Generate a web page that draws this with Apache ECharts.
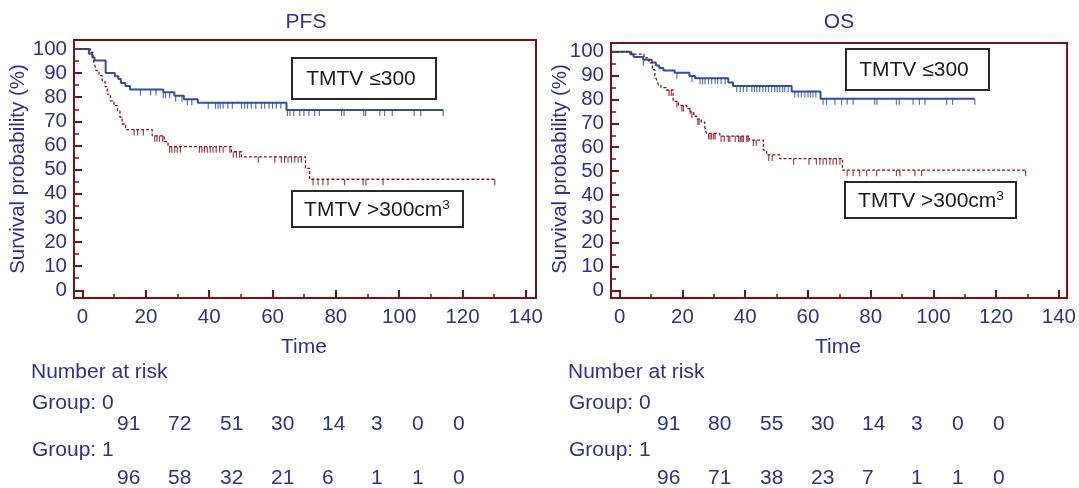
<!DOCTYPE html>
<html><head><meta charset="utf-8">
<script src="https://cdn.jsdelivr.net/npm/echarts@6/dist/echarts.min.js"></script>
<style>html,body{margin:0;padding:0;background:#fff}#c{width:1079px;height:488px}</style>
</head><body><div id="c"></div>
<script>
// ---------- data ----------
const panelTitles = ['PFS', 'OS'];
const xTickValues = [0, 20, 40, 60, 80, 100, 120, 140];
const xMinorValues = [10, 30, 50, 70, 90, 110, 130];
const yTickValues = [0, 10, 20, 30, 40, 50, 60, 70, 80, 90, 100];
const yMinorValues = [5, 15, 25, 35, 45, 55, 65, 75, 85, 95];
const groupLabels = ['TMTV \u2264300', 'TMTV >300cm{sup|3}'];

// PFS, group 0 (TMTV <=300): [time, survival %] step points
const pfsLowSteps = [[0,100],[2,98],[3.1,96.5],[3.8,95.2],[7.3,90],[10.2,88.7],[11.3,87.5],[12.1,85.9],[13.5,84.6],[15,83.2],[25.5,82],[29,80.6],[32,79.2],[36.4,77.7],[64.4,74.7]];
const pfsLowEnd = 113.9;
const pfsLowCensor = [18.3,21.5,23.2,25.5,26.2,27.5,29.4,31.4,33.1,34.5,39.7,42,42.8,43.5,44.4,45.9,47.3,50.2,51.2,52.1,53.3,54.7,56.5,57.5,58.9,60,61.2,62.6,64.7,65.5,66.7,68.6,69.9,71.5,73.3,74.8,81.8,82.6,88.8,89.4,93.9,95.4,97.8,104.7,106.8,113.9];
// PFS, group 1 (TMTV >300)
const pfsHighSteps = [[0,100],[2.5,98.6],[3.3,95.9],[3.9,93.1],[4.3,91],[5.2,88.9],[6.2,86.9],[7.1,84.4],[7.8,81.3],[8.8,78.5],[9.9,76.5],[11,74.4],[11.8,71.7],[12.5,68.9],[13.6,66.6],[22,64],[25.8,61.6],[27,59.5],[47,57.4],[50.2,55.3],[70.4,50.5],[71.7,46]];
const pfsHighEnd = 130.2;
const pfsHighCensor = [16.3,17.4,19.2,22.8,23.5,24.3,25.3,27.5,28.2,29.1,29.9,30.9,36.9,37.7,38.5,39.4,40.3,41.2,42.2,43.3,44.4,46.5,47.6,48.6,49.6,55.5,60.7,62.8,63.8,64.9,66,67,68.1,69.1,72.8,74.4,75.9,77.5,82.8,88.6,89.5,94.9,130.2];
// OS, group 0
const osLowSteps = [[0,100],[3.3,99],[4.4,97.8],[7.5,96.7],[10.2,95.5],[11.5,94.3],[12.6,93.2],[13.9,92.2],[17.5,91.2],[22.2,89.9],[24,88.9],[34.6,87.1],[36.1,85.7],[54.8,83.4],[64,80.3]];
const osLowEnd = 113.2;
const osLowCensor = [7.5,18.2,23,25.6,26.4,27.2,28.3,29.3,30.4,31.2,32.3,33.6,37.3,38.4,39.4,40.5,42.1,42.9,43.7,44.6,45.6,46.5,47.4,48.4,49.4,50.2,51,51.9,52.6,53.7,55.8,56.9,57.9,59,60,60.8,61.6,62.5,64.8,65.9,68.6,70.7,72.5,74.4,81.3,82,88.2,89.1,93.5,95.5,97.3,104.2,106.1,113.2];
// OS, group 1
const osHighSteps = [[0,100],[3.8,99],[7.7,97.5],[9.3,95.4],[10.4,92.5],[11.2,90],[11.8,88],[12.4,86],[13.1,85],[14.8,84],[17,79.2],[18.7,77.5],[21.4,76.2],[22.5,74.8],[23.6,73],[24.5,71.8],[26,70.5],[27.1,68.5],[27.6,65.8],[31.9,64.7],[41.3,63],[45.8,58.8],[46.8,56.8],[51,55.2],[71,50.4]];
const osHighEnd = 129.4;
const osHighCensor = [15.7,16.4,18.2,19.8,20.3,22.4,23,24.9,25.3,28.3,28.8,29.3,29.9,30.4,32.3,33.3,34.6,35.1,36.8,37.9,38.4,38.9,39.4,40.5,40.9,42.6,43.5,47.5,48.6,55.4,60.3,62.7,63.8,64.8,65.9,67,68,69.1,70.2,72.5,74.4,76.5,78.7,81.9,88.2,89.3,94.1,96.2,129.4];

// Numbers at risk
const riskPFS0 = [91, 72, 51, 30, 14, 3, 0, 0];
const riskPFS1 = [96, 58, 32, 21, 6, 1, 1, 0];
const riskOS0 = [91, 80, 55, 30, 14, 3, 0, 0];
const riskOS1 = [96, 71, 38, 23, 7, 1, 1, 0];

// ---------- layout & style ----------
const FONT = '"Liberation Sans", Arial, Helvetica, sans-serif';
const NAVY = '#2e3192';
const FRAME = '#7d1014';
const BLUE = '#2f4ea6';
const RED = '#8a1416';
const SX = 1.05;
const riskColX = [117, 168, 220, 271, 322, 371, 412, 453];

const panels = [
  { grid: {left: 74, top: 40, width: 462, height: 258}, xMin: -2.7, xMax: 143.2, yMin: -3.2, yMax: 103.7,
    ox: 0, labelX: 31, titleX: 306, timeX: 304, yTitleX: 18,
    box1: [292, 58, 144, 41], t1: [361, 79], box2: [292, 191, 171, 36], t2: [377, 210],
    low: [pfsLowSteps, pfsLowEnd, pfsLowCensor], high: [pfsHighSteps, pfsHighEnd, pfsHighCensor], risk: [riskPFS0, riskPFS1] },
  { grid: {left: 611, top: 43, width: 457, height: 255}, xMin: -2.8, xMax: 142.6, yMin: -3.2, yMax: 103.7,
    ox: 540, labelX: 568, titleX: 839, timeX: 838, yTitleX: 560,
    box1: [846, 49, 143, 41], t1: [914, 70], box2: [845, 182, 171, 36], t2: [931, 201],
    low: [osLowSteps, osLowEnd, osLowCensor], high: [osHighSteps, osHighEnd, osHighCensor], risk: [riskOS0, riskOS1] }
];

function survAt(steps, t) {
  let s = steps[0][1];
  for (const p of steps) { if (p[0] <= t) s = p[1]; }
  return s;
}
function curve(steps, end, xMin) {
  const d = [[xMin, steps[0][1]]].concat(steps.slice(1));
  d.push([end, steps[steps.length - 1][1]]);
  return d;
}

const grids = [], xAxes = [], yAxes = [], series = [], graphics = [];
const labelStyle = {fontFamily: FONT, fontSize: 20.5, color: NAVY};
const noLine = {show: false, onZero: false};

function htext(x, y, text, align, extra) {
  return Object.assign({type: 'text', x: x, y: y, scaleX: SX,
    style: {text: text, fill: NAVY, font: '20px ' + FONT, align: align, verticalAlign: 'middle'}}, extra || {});
}

panels.forEach((p, i) => {
  grids.push(Object.assign({show: true, borderColor: FRAME, borderWidth: 2, backgroundColor: '#fff'}, p.grid));
  const xi = xAxes.length, yi = yAxes.length;
  xAxes.push({type: 'value', gridIndex: i, position: 'bottom', min: p.xMin, max: p.xMax, axisLine: noLine, splitLine: {show: false},
    axisTick: {inside: true, length: 8, customValues: xTickValues, lineStyle: {color: FRAME, width: 2}},
    axisLabel: Object.assign({customValues: xTickValues, margin: 9}, labelStyle)});
  xAxes.push({type: 'value', gridIndex: i, position: 'bottom', min: p.xMin, max: p.xMax, axisLine: noLine, splitLine: {show: false},
    axisTick: {inside: true, length: 4, customValues: xMinorValues, lineStyle: {color: FRAME, width: 1.5}},
    axisLabel: {show: false}});
  yAxes.push({type: 'value', gridIndex: i, position: 'left', min: p.yMin, max: p.yMax, axisLine: noLine, splitLine: {show: false},
    axisTick: {inside: true, length: 8, customValues: yTickValues, lineStyle: {color: FRAME, width: 2}},
    axisLabel: Object.assign({customValues: yTickValues, margin: 7}, labelStyle)});
  yAxes.push({type: 'value', gridIndex: i, position: 'left', min: p.yMin, max: p.yMax, axisLine: noLine, splitLine: {show: false},
    axisTick: {inside: true, length: 5, customValues: yMinorValues, lineStyle: {color: FRAME, width: 1.5}},
    axisLabel: {show: false}});

  const groups = [[p.low, BLUE, 'solid', 2], [p.high, RED, [3, 2], 1.3]];
  groups.forEach(([g, col, type, w]) => {
    const [steps, end, cens] = g;
    series.push({type: 'line', xAxisIndex: xi, yAxisIndex: yi, step: 'end', showSymbol: false, silent: true,
      data: curve(steps, end, p.xMin), lineStyle: {color: col, width: w, type: type}, z: 3});
    series.push({type: 'scatter', xAxisIndex: xi, yAxisIndex: yi, symbol: 'rect', symbolSize: [1.2, 6], symbolOffset: [0, 3],
      itemStyle: {color: col}, silent: true, z: 4,
      data: cens.map(t => [t, survAt(steps, t)])});
  });

  graphics.push(htext(p.titleX, 22, panelTitles[i], 'center'));
  graphics.push(htext(p.timeX, 347, 'Time', 'center'));
  graphics.push({type: 'text', x: p.yTitleX, y: 169, rotation: Math.PI / 2, style: {text: 'Survival probability (%)', fill: NAVY, font: '20.5px ' + FONT, align: 'center', verticalAlign: 'middle'}});
  [[p.box1, p.t1, groupLabels[0]], [p.box2, p.t2, groupLabels[1]]].forEach(([b, t, txt]) => {
    graphics.push({type: 'rect', shape: {x: b[0], y: b[1], width: b[2], height: b[3]}, style: {fill: '#fff', stroke: '#2a2a2a', lineWidth: 2}, z: 10});
    graphics.push({type: 'text', x: t[0], y: t[1], z: 11, scaleX: SX, style: {text: txt, fill: '#1c1c1c', font: '20px ' + FONT, align: 'center', verticalAlign: 'middle',
      rich: {sup: {fontSize: 13, fontFamily: FONT, verticalAlign: 'top', fill: '#1c1c1c', padding: [0, 0, 9, 0]}}}});
  });
  graphics.push(htext(p.labelX, 372, 'Number at risk', 'left'));
  graphics.push(htext(p.labelX + 1, 403, 'Group: 0', 'left'));
  graphics.push(htext(p.labelX + 1, 450, 'Group: 1', 'left'));
  p.risk.forEach((row, r) => {
    row.forEach((v, k) => {
      graphics.push(htext(p.ox + riskColX[k], r === 0 ? 424 : 478, String(v), 'left'));
    });
  });
});

const chart = echarts.init(document.getElementById('c'), null, {renderer: 'canvas'});
chart.setOption({animation: false, backgroundColor: '#fff', grid: grids, xAxis: xAxes, yAxis: yAxes, series: series, graphic: graphics});
</script></body></html>
